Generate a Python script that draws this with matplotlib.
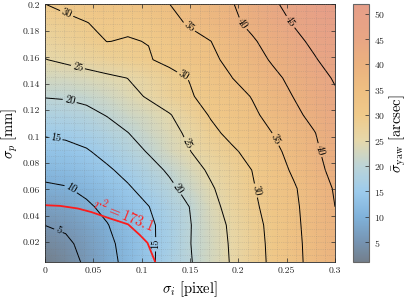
import numpy as np
import matplotlib
matplotlib.use("Agg")
import matplotlib.pyplot as plt
from matplotlib.colors import LinearSegmentedColormap
from matplotlib.ticker import MultipleLocator, FuncFormatter

plt.rcParams['font.family'] = 'serif'
plt.rcParams['font.serif'] = ['cmr10']
plt.rcParams['mathtext.fontset'] = 'cm'
plt.rcParams['axes.formatter.use_mathtext'] = True

# grid of the map (sigma_i along x, sigma_p along y)
sigma_i = [0, 0.0214, 0.0429, 0.0643, 0.0857, 0.1071, 0.1286, 0.15,
           0.1714, 0.1929, 0.2143, 0.2357, 0.2571, 0.2786, 0.3]
sigma_p = [0.005, 0.0189, 0.0329, 0.0468, 0.0607, 0.0746, 0.0886, 0.1025,
           0.1164, 0.1304, 0.1443, 0.1582, 0.1721, 0.1861, 0.2]

# mean yaw error [arcsec], one row per sigma_p value (bottom to top)
sigma_yaw = [
    [1.1, 3.08, 5.76, 8.51, 11.3, 14.09, 16.9, 19.69, 22.49, 25.3, 28.1, 30.91, 33.71, 36.51, 39.32],
    [3.0, 4.12, 6.38, 8.94, 11.63, 14.2, 16.5, 19.88, 22.66, 25.45, 28.23, 31.03, 33.82, 36.61, 39.42],
    [5.03, 5.76, 7.54, 9.81, 12.2, 14.2, 16.6, 19.8, 22.9, 25.7, 28.5, 31.2, 34.0, 36.8, 39.7],
    [7.1, 7.8, 9.3, 11.1, 13.0, 14.9, 17.4, 20.1, 23.6, 26.5, 29.1, 31.7, 34.2, 37.0, 40.0],
    [9.3, 9.7, 11.0, 12.7, 14.5, 16.6, 19.0, 21.6, 24.5, 27.1, 29.6, 32.1, 34.5, 37.4, 40.4],
    [11.3, 11.8, 12.8, 14.4, 16.2, 18.4, 20.6, 23.2, 25.7, 27.8, 30.05, 32.9, 35.6, 38.3, 41.5],
    [13.4, 13.7, 14.6, 16.3, 18.2, 20.3, 22.7, 24.9, 27.1, 29.2, 31.5, 33.9, 36.4, 39.1, 42.2],
    [15.4, 15.8, 16.7, 18.2, 19.9, 21.8, 23.7, 25.8, 28.8, 31.2, 33.1, 35.05, 37.4, 39.8, 42.8],
    [17.8, 18.1, 18.9, 20.2, 21.7, 23.2, 24.7, 27.5, 30.4, 32.3, 34.2, 36.4, 38.9, 41.3, 43.7],
    [20.2, 20.4, 21.0, 22.1, 23.8, 25.4, 27.7, 29.6, 31.5, 33.3, 35.2, 37.7, 40.1, 42.3, 44.4],
    [22.5, 22.8, 23.4, 24.2, 25.05, 26.7, 28.5, 30.2, 32.5, 34.9, 37.0, 39.0, 41.1, 43.3, 45.4],
    [24.9, 25.7, 26.7, 27.7, 28.7, 29.7, 31.1, 32.6, 34.2, 36.0, 38.3, 40.5, 42.5, 44.6, 47.0],
    [26.5, 27.7, 28.9, 30.05, 29.8, 30.1, 31.8, 33.4, 34.95, 37.2, 39.5, 41.6, 43.7, 46.0, 48.6],
    [28.3, 29.1, 29.9, 30.9, 30.6, 31.6, 33.6, 35.6, 37.4, 39.1, 41.0, 43.1, 45.3, 47.8, 50.2],
    [29.95, 30.8, 31.7, 32.5, 33.3, 34.2, 34.95, 36.5, 38.1, 39.7, 41.9, 44.2, 46.7, 49.3, 51.8],
]

contour_levels = [5, 10, 15, 20, 25, 30, 35, 40, 45]

# r^2 = 173.1 iso-line
red_x = [0, 0.0155, 0.034, 0.048, 0.065, 0.086, 0.098, 0.106, 0.114]
red_y = [0.048, 0.0475, 0.0455, 0.0428, 0.0385, 0.0335, 0.0255, 0.0195, 0.005]

# where the inline contour labels sit
label_pos = [(0.0138, 0.0285), (0.0276, 0.0613), (0.0103, 0.0965), (0.110, 0.0185),
             (0.0259, 0.128), (0.133, 0.0587), (0.0345, 0.154), (0.145, 0.094),
             (0.024, 0.196), (0.1466, 0.1506), (0.2155, 0.0587), (0.148, 0.182),
             (0.238, 0.0977), (0.205, 0.186), (0.286, 0.090), (0.252, 0.186)]

cb_vals = [1.1, 5, 10, 15, 20, 25, 30, 35, 40, 45, 51.8]
cb_cols = ['#737f8c', '#7694b2', '#80b2da', '#9ccbec', '#bdd4d6', '#e6d8aa',
           '#efca8a', '#eebf82', '#ebb27f', '#e8a684', '#e69e88']
vmin, vmax = min(cb_vals), max(cb_vals)
cmap = LinearSegmentedColormap.from_list(
    'yaw', [((v - vmin) / (vmax - vmin), c) for v, c in zip(cb_vals, cb_cols)])

X, Y = np.meshgrid(sigma_i, sigma_p)
Z = np.array(sigma_yaw)

fig = plt.figure(figsize=(4.07, 3.01), dpi=100)
ax = fig.add_axes([0.1106, 0.1296, 0.7125, 0.8555])
cax = fig.add_axes([0.8673, 0.1296, 0.0393, 0.8555])

mesh = ax.pcolormesh(X, Y, Z, shading='gouraud', cmap=cmap, vmin=vmin, vmax=vmax)
cs = ax.contour(X, Y, Z, levels=contour_levels, colors='k', linewidths=0.7)
ax.clabel(cs, fmt='%d', fontsize=7.5, inline=True, inline_spacing=2, manual=label_pos)

ax.plot(red_x, red_y, color='#ff1a1a', lw=1.3)
ax.text(0.082, 0.041, r'$r^2 = 173.1$', color='#ff2020', fontsize=10.5,
        rotation=-22, ha='center', va='center', rotation_mode='anchor')

ax.set_xlim(0, 0.3)
ax.set_ylim(0.005, 0.2)
ax.xaxis.set_major_locator(MultipleLocator(0.05))
ax.yaxis.set_major_locator(MultipleLocator(0.02))
ax.xaxis.set_minor_locator(MultipleLocator(0.01))
ax.yaxis.set_minor_locator(MultipleLocator(0.005))
fmt = FuncFormatter(lambda v, p: '%g' % round(v, 3))
ax.xaxis.set_major_formatter(fmt)
ax.yaxis.set_major_formatter(fmt)
ax.tick_params(which='both', direction='in', top=True, right=True, labelsize=7,
               colors='#262626')
ax.tick_params(which='major', length=3, width=0.5)
ax.tick_params(which='minor', length=0)
ax.grid(True, which='both', linestyle=':', linewidth=0.5, color='#777777', alpha=0.35)
ax.set_axisbelow(False)
for s in ax.spines.values():
    s.set_color('#262626')
    s.set_linewidth(0.6)

ax.set_xlabel(r'$\sigma_i\ \mathrm{[pixel]}$', fontsize=10.5, labelpad=3)
ax.set_ylabel(r'$\sigma_p\ \mathrm{[mm]}$', fontsize=10.5, labelpad=2)

cb = fig.colorbar(mesh, cax=cax, ticks=range(5, 55, 5))
cb.ax.tick_params(direction='in', length=3, width=0.5, labelsize=7, colors='#262626')
cb.outline.set_edgecolor('#666666')
cb.outline.set_linewidth(0.8)
cb.set_label(r'$\bar{\sigma}_{\mathrm{yaw}}\ \mathrm{[arcsec]}$', fontsize=10.5, labelpad=2)

fig.savefig('out.png', dpi=100)
